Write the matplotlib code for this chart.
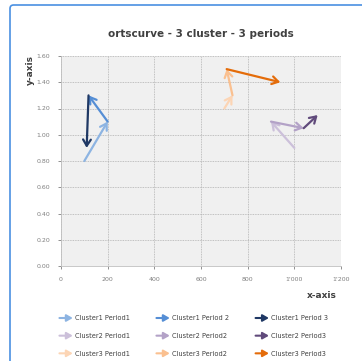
import matplotlib
matplotlib.use("Agg")
import matplotlib.pyplot as plt
from matplotlib.patches import FancyArrowPatch, FancyBboxPatch
from matplotlib.legend_handler import HandlerPatch

# ─────────────────────────────────────────────
#  DATOS
# ─────────────────────────────────────────────
labels = ["Cluster1 Period1", "Cluster2 Period1", "Cluster3 Period1",
          "Cluster1 Period 2", "Cluster2 Period2", "Cluster3 Period2",
          "Cluster1 Period 3", "Cluster2 Period3", "Cluster3 Period3"]
x_start = [100, 1000, 700, 200, 900, 735, 118, 1040, 710]
y_start = [0.80, 0.90, 1.20, 1.10, 1.10, 1.30, 1.30, 1.05, 1.50]
x_end   = [200, 900, 735, 118, 1040, 710, 110, 1100, 940]
y_end   = [1.10, 1.10, 1.30, 1.30, 1.05, 1.50, 0.90, 1.15, 1.40]
colors  = ["#8db4e2", "#ccc0da", "#fcd5b5",
           "#558ed5", "#b3a2c7", "#fac090",
           "#1f3864", "#604a7b", "#e46c0a"]

x_ticks = [0, 200, 400, 600, 800, 1000, 1200]
x_tick_labels = ["0", "200", "400", "600", "800", "1'000", "1'200"]
y_ticks = [0.0, 0.2, 0.4, 0.6, 0.8, 1.0, 1.2, 1.4, 1.6]

TEXTO = "#404040"
GRIS = "#7f7f7f"


class HandlerArrow(HandlerPatch):
    def create_artists(self, legend, orig_handle, xdescent, ydescent,
                       width, height, fontsize, trans):
        p = FancyArrowPatch((0, height / 2), (width, height / 2),
                            arrowstyle="-|>,head_length=3.5,head_width=2",
                            color=orig_handle.get_edgecolor(), lw=1.5,
                            shrinkA=0, shrinkB=0, mutation_scale=1)
        p.set_transform(trans)
        return [p]


fig = plt.figure(figsize=(3.62, 3.61), dpi=100, facecolor="white")

# marco exterior
frame = FancyBboxPatch((10 / 362, -0.05), 1.2, 1.05 - 5 / 361,
                       boxstyle="round,pad=0,rounding_size=0.01",
                       transform=fig.transFigure, facecolor="none",
                       edgecolor="#4a90e2", lw=1.2, clip_on=False)
fig.patches.append(frame)

ax = fig.add_axes([61 / 362, 1 - 266 / 361, 280 / 362, 210 / 361])
ax.set_facecolor("#f0f0f0")
ax.set_xlim(0, 1200)
ax.set_ylim(0, 1.6)
ax.set_xticks(x_ticks)
ax.set_xticklabels(x_tick_labels)
ax.set_yticks(y_ticks)
ax.set_yticklabels([f"{v:.2f}" for v in y_ticks])
ax.tick_params(labelsize=4.5, colors=GRIS, length=2, width=0.6, pad=6)
ax.grid(True, color="#b0b0b0", linestyle=(0, (1, 1)), linewidth=0.6)
ax.set_axisbelow(True)
for s in ["top", "right"]:
    ax.spines[s].set_visible(False)
for s in ["left", "bottom"]:
    ax.spines[s].set_color("#bfbfbf")
    ax.spines[s].set_linewidth(0.6)

handles = []
for xs, ys, xe, ye, c, lab in zip(x_start, y_start, x_end, y_end, colors, labels):
    arr = FancyArrowPatch((xs, ys), (xe, ye),
                          arrowstyle="->,head_length=4.5,head_width=2.8",
                          color=c, lw=1.6, shrinkA=0, shrinkB=0,
                          mutation_scale=1, label=lab)
    ax.add_patch(arr)
    handles.append(arr)

fig.text(0.555, 1 - 34 / 361, "ortscurve - 3 cluster - 3 periods",
         ha="center", va="center", fontsize=7.5, fontweight="bold", color=TEXTO)
fig.text(30 / 362, 1 - 70 / 361, "y-axis", rotation=90, ha="center",
         va="center", fontsize=6.5, fontweight="bold", color=TEXTO)
fig.text(337 / 362, 1 - 296 / 361, "x-axis", ha="right", va="center",
         fontsize=6.5, fontweight="bold", color=TEXTO)

fig.legend(handles=handles, labels=labels, ncol=3,
           handler_map={FancyArrowPatch: HandlerArrow()},
           loc="center", bbox_to_anchor=(0.535, 1 - 336 / 361),
           fontsize=4.8, frameon=False, handlelength=2.0, handletextpad=0.3,
           columnspacing=4.0, labelspacing=1.75, labelcolor=TEXTO)

plt.savefig("out.png", dpi=100, facecolor="white")
